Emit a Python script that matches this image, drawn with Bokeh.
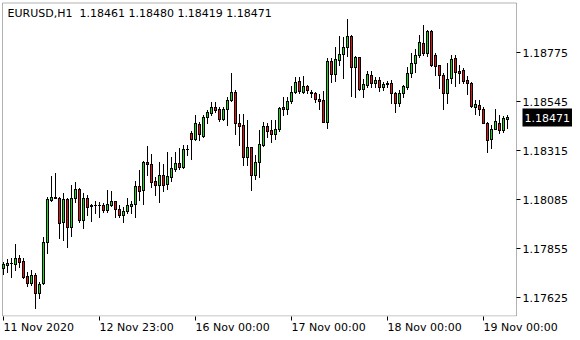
from bokeh.plotting import figure
from bokeh.models import (LinearAxis, FixedTicker, Label, Range1d, ColumnDataSource,
                          PrintfTickFormatter, BoxAnnotation)
from bokeh.embed import file_html
from bokeh.resources import INLINE

symbol = "EURUSD,H1"

opens = [1.17761, 1.17777, 1.17784, 1.17780, 1.17808, 1.17795, 1.17725, 1.17691, 1.17730, 1.17644,
         1.17691, 1.17883, 1.18080, 1.18092, 1.18093, 1.17980, 1.18086, 1.17956, 1.18093, 1.18133,
         1.17988, 1.18093, 1.18053, 1.18056, 1.18060, 1.18058, 1.18033, 1.18060, 1.18076, 1.18038,
         1.18010, 1.18029, 1.18055, 1.18063, 1.18147, 1.18130, 1.18260, 1.18253, 1.18170, 1.18151,
         1.18198, 1.18157, 1.18191, 1.18229, 1.18254, 1.18235, 1.18319, 1.18395, 1.18367, 1.18438,
         1.18382, 1.18473, 1.18489, 1.18517, 1.18507, 1.18463, 1.18507, 1.18551, 1.18587, 1.18445,
         1.18432, 1.18282, 1.18329, 1.18201, 1.18260, 1.18341, 1.18429, 1.18410, 1.18392, 1.18414,
         1.18520, 1.18507, 1.18545, 1.18589, 1.18639, 1.18589, 1.18617, 1.18590, 1.18583, 1.18557,
         1.18551, 1.18449, 1.18736, 1.18673, 1.18739, 1.18767, 1.18798, 1.18852, 1.18707, 1.18752,
         1.18604, 1.18620, 1.18668, 1.18632, 1.18645, 1.18614, 1.18632, 1.18632, 1.18583, 1.18538,
         1.18583, 1.18614, 1.18676, 1.18726, 1.18761, 1.18817, 1.18773, 1.18874, 1.18762, 1.18715,
         1.18668, 1.18585, 1.18653, 1.18747, 1.18689, 1.18692, 1.18645, 1.18630, 1.18520, 1.18526,
         1.18507, 1.18445, 1.18367, 1.18416, 1.18445, 1.18410, 1.18461]
highs = [1.17792, 1.17805, 1.17808, 1.17874, 1.17824, 1.17808, 1.17745, 1.17753, 1.17738, 1.17698,
         1.17909, 1.18097, 1.18194, 1.18208, 1.18095, 1.18113, 1.18093, 1.18152, 1.18168, 1.18139,
         1.18113, 1.18105, 1.18062, 1.18077, 1.18074, 1.18066, 1.18129, 1.18125, 1.18079, 1.18057,
         1.18050, 1.18091, 1.18078, 1.18172, 1.18223, 1.18266, 1.18335, 1.18298, 1.18188, 1.18260,
         1.18251, 1.18307, 1.18285, 1.18307, 1.18326, 1.18339, 1.18339, 1.18407, 1.18481, 1.18448,
         1.18481, 1.18504, 1.18542, 1.18542, 1.18520, 1.18520, 1.18564, 1.18679, 1.18598, 1.18485,
         1.18485, 1.18457, 1.18332, 1.18294, 1.18410, 1.18448, 1.18442, 1.18457, 1.18457, 1.18520,
         1.18564, 1.18564, 1.18617, 1.18661, 1.18661, 1.18664, 1.18623, 1.18598, 1.18589, 1.18579,
         1.18595, 1.18747, 1.18747, 1.18799, 1.18852, 1.18848, 1.18930, 1.18855, 1.18758, 1.18755,
         1.18648, 1.18689, 1.18689, 1.18661, 1.18661, 1.18637, 1.18642, 1.18645, 1.18590, 1.18598,
         1.18622, 1.18705, 1.18770, 1.18792, 1.18856, 1.18903, 1.18880, 1.18880, 1.18770, 1.18717,
         1.18676, 1.18723, 1.18762, 1.18762, 1.18715, 1.18700, 1.18664, 1.18637, 1.18551, 1.18551,
         1.18517, 1.18449, 1.18434, 1.18507, 1.18481, 1.18476, 1.18480]
lows = [1.17733, 1.17742, 1.17722, 1.17753, 1.17769, 1.17714, 1.17679, 1.17683, 1.17576, 1.17623,
        1.17688, 1.17832, 1.18077, 1.18090, 1.17905, 1.17894, 1.17863, 1.17914, 1.18074, 1.17980,
        1.17949, 1.18011, 1.17983, 1.18019, 1.18003, 1.18024, 1.18025, 1.18055, 1.18000, 1.18000,
        1.17980, 1.18022, 1.18022, 1.18000, 1.18082, 1.18063, 1.18199, 1.18141, 1.18105, 1.18074,
        1.18125, 1.18135, 1.18172, 1.18216, 1.18226, 1.18230, 1.18293, 1.18276, 1.18363, 1.18363,
        1.18376, 1.18445, 1.18481, 1.18496, 1.18454, 1.18457, 1.18434, 1.18545, 1.18392, 1.18340,
        1.18246, 1.18246, 1.18129, 1.18179, 1.18191, 1.18335, 1.18376, 1.18354, 1.18367, 1.18407,
        1.18481, 1.18485, 1.18536, 1.18583, 1.18585, 1.18583, 1.18585, 1.18567, 1.18543, 1.18507,
        1.18447, 1.18418, 1.18637, 1.18642, 1.18715, 1.18653, 1.18758, 1.18570, 1.18567, 1.18598,
        1.18567, 1.18614, 1.18614, 1.18611, 1.18595, 1.18598, 1.18611, 1.18538, 1.18496, 1.18523,
        1.18567, 1.18601, 1.18661, 1.18684, 1.18754, 1.18762, 1.18758, 1.18712, 1.18668, 1.18606,
        1.18507, 1.18536, 1.18630, 1.18617, 1.18630, 1.18632, 1.18579, 1.18520, 1.18485, 1.18481,
        1.18442, 1.18308, 1.18327, 1.18413, 1.18398, 1.18403, 1.18419]
closes = [1.17780, 1.17786, 1.17786, 1.17808, 1.17792, 1.17722, 1.17691, 1.17730, 1.17644, 1.17686,
          1.17883, 1.18086, 1.18096, 1.18094, 1.17972, 1.18086, 1.17956, 1.18093, 1.18133, 1.17988,
          1.18093, 1.18050, 1.18056, 1.18060, 1.18057, 1.18033, 1.18062, 1.18076, 1.18038, 1.18010,
          1.18029, 1.18057, 1.18063, 1.18147, 1.18125, 1.18260, 1.18251, 1.18168, 1.18154, 1.18198,
          1.18154, 1.18194, 1.18232, 1.18254, 1.18238, 1.18320, 1.18321, 1.18367, 1.18442, 1.18392,
          1.18470, 1.18495, 1.18517, 1.18504, 1.18463, 1.18507, 1.18551, 1.18587, 1.18442, 1.18431,
          1.18285, 1.18329, 1.18201, 1.18260, 1.18345, 1.18429, 1.18407, 1.18392, 1.18414, 1.18514,
          1.18507, 1.18545, 1.18589, 1.18636, 1.18592, 1.18617, 1.18598, 1.18583, 1.18554, 1.18548,
          1.18449, 1.18736, 1.18673, 1.18742, 1.18767, 1.18801, 1.18852, 1.18707, 1.18752, 1.18604,
          1.18626, 1.18673, 1.18632, 1.18645, 1.18614, 1.18626, 1.18626, 1.18583, 1.18538, 1.18585,
          1.18617, 1.18676, 1.18726, 1.18761, 1.18823, 1.18773, 1.18874, 1.18715, 1.18711, 1.18668,
          1.18585, 1.18648, 1.18742, 1.18684, 1.18679, 1.18642, 1.18630, 1.18523, 1.18532, 1.18507,
          1.18445, 1.18363, 1.18416, 1.18451, 1.18410, 1.18465, 1.18471]
bars = list(range(len(opens)))

price_ticks = [1.17625, 1.17855, 1.18085, 1.18315, 1.18545, 1.18775]
time_ticks = [0, 24, 48, 72, 96, 120]
time_labels = ["11 Nov 2020", "12 Nov 23:00", "16 Nov 00:00", "17 Nov 00:00",
               "18 Nov 00:00", "19 Nov 00:00"]

BULL = "#10e010"
BEAR = "#e81010"
FONT = "DejaVu Sans"

# ---- geometry of the figure (pixels) ----
W, H = 580, 340
FRAME_L, FRAME_T, FRAME_B = 1, 1, 24
FRAME_W, FRAME_H = W - FRAME_L, H - FRAME_T - FRAME_B
PX_PER_BAR = 4.0
HALF = 0.5                              # half-pixel shift so fills land on whole pixels
x_lo = -0.625 + HALF / PX_PER_BAR
x_hi = x_lo + FRAME_W / PX_PER_BAR
y_lo, y_hi = 1.175372, 1.190158
PX = (y_hi - y_lo) / FRAME_H            # price units per pixel

def bar_w(px):
    return px / PX_PER_BAR

# snap a price to the pixel row it is drawn on
def row(v):
    return round((y_hi - v) / PX)

def fill_edge(r):      # boundary between pixel rows
    return y_hi - (r - HALF) * PX

wick_top, wick_bot = [], []
body_top, body_bot = [], []
in_x, in_top, in_bot, in_col = [], [], [], []
for i, (o, h, l, c) in enumerate(zip(opens, highs, lows, closes)):
    rh, rl = row(h), row(l)
    rt, rb = row(max(o, c)), row(min(o, c))
    wick_top.append(fill_edge(rh)); wick_bot.append(fill_edge(rl + 1))
    body_top.append(fill_edge(rt)); body_bot.append(fill_edge(rb + 1))
    if rb - rt >= 2:
        in_x.append(i)
        in_top.append(fill_edge(rt + 1)); in_bot.append(fill_edge(rb))
        in_col.append(BULL if c >= o else BEAR)

wick_src = ColumnDataSource(dict(x=bars, top=wick_top, bot=wick_bot))
body_src = ColumnDataSource(dict(x=bars, top=body_top, bot=body_bot))
in_src = ColumnDataSource(dict(x=in_x, top=in_top, bot=in_bot, col=in_col))

p = figure(width=W, height=H, output_backend="svg", toolbar_location=None,
           x_range=Range1d(x_lo, x_hi), y_range=Range1d(y_lo, y_hi),
           x_axis_location=None, y_axis_location=None,
           min_border_left=FRAME_L, min_border_top=FRAME_T, min_border_right=0,
           min_border_bottom=FRAME_B)
p.grid.visible = False
p.outline_line_color = None
p.background_fill_color = "white"
p.border_fill_color = "white"

p.vbar(x="x", width=bar_w(1), top="top", bottom="bot", source=wick_src,
       fill_color="black", line_color=None)
p.vbar(x="x", width=bar_w(3), top="top", bottom="bot", source=body_src,
       fill_color="black", line_color=None)
p.vbar(x="x", width=bar_w(1), top="top", bottom="bot", source=in_src,
       fill_color="col", line_color=None)

# chart window border
win_left, win_right = -0.625 + bar_w(1.5), -0.625 + bar_w(515.5)
win_top, win_bottom = y_hi - 1.5 * PX, y_hi - 314.5 * PX
p.add_layout(BoxAnnotation(left=win_left, right=win_right, bottom=win_bottom, top=win_top,
                           fill_color=None, line_color="black", line_width=1))

# price scale on the right edge of the chart window
yax = LinearAxis(ticker=FixedTicker(ticks=price_ticks), fixed_location=win_right,
                 formatter=PrintfTickFormatter(format="%.5f"),
                 major_tick_out=4, major_tick_in=0, minor_tick_out=0, minor_tick_in=0,
                 axis_line_color=None, major_tick_line_color="black",
                 major_label_standoff=2, major_label_text_font=FONT,
                 major_label_text_font_size="11px", major_label_text_color="black")
p.add_layout(yax, "right")

# time scale: tick marks
xax = LinearAxis(ticker=FixedTicker(ticks=time_ticks),
                 major_label_overrides={t: "" for t in time_ticks},
                 major_tick_out=4, major_tick_in=0, minor_tick_out=0, minor_tick_in=0,
                 axis_line_color=None, major_tick_line_color="black",
                 major_label_standoff=0, major_label_text_font_size="0px")
p.add_layout(xax, "below")

# time scale: labels starting at their tick (left aligned)
def text_w(s):
    w = 0.0
    for ch in s:
        if ch.isdigit():
            w += 0.636
        elif ch == " ":
            w += 0.318
        elif ch == ":":
            w += 0.337
        elif ch == "N":
            w += 0.748
        elif ch == "o":
            w += 0.612
        elif ch == "v":
            w += 0.592
        else:
            w += 0.6
    return w * 11

lab_pos = [t + bar_w(text_w(s) / 2) for t, s in zip(time_ticks, time_labels)]
xlab = LinearAxis(ticker=FixedTicker(ticks=lab_pos),
                  major_label_overrides={pos: s for pos, s in zip(lab_pos, time_labels)},
                  major_tick_out=0, major_tick_in=0, minor_tick_out=0, minor_tick_in=0,
                  axis_line_color=None, major_tick_line_color=None,
                  major_label_standoff=0, major_label_text_font=FONT,
                  major_label_text_font_size="11px", major_label_text_color="black")
p.add_layout(xlab, "below")

title_text = "%s\u00a0\u00a0%.5f %.5f %.5f %.5f" % (symbol, opens[-1], highs[-1], lows[-1], closes[-1])
p.add_layout(Label(x=7, y=6, x_units="canvas", y_units="canvas", text=title_text,
                   text_align="left", text_baseline="top", text_font=FONT,
                   text_font_size="11px", text_color="black"))

p.add_layout(Label(x=522, y=closes[-1], x_units="canvas", y_units="data",
                   text="%.5f" % closes[-1], text_align="left", text_baseline="middle",
                   text_font=FONT, text_font_size="11px", text_color="white",
                   background_fill_color="black", padding=(2, 5)))

open("out.html", "w").write(file_html(p, INLINE))
